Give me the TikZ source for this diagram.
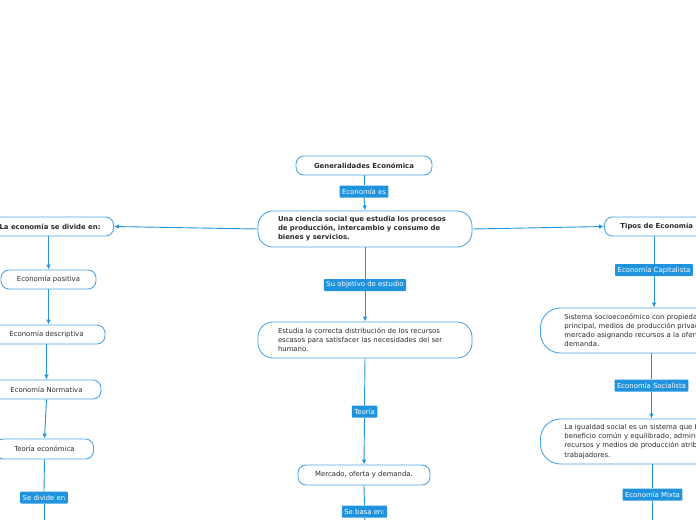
\documentclass[tikz,border=0pt]{standalone}
\usepackage{fontspec}
\setmainfont{DejaVu Sans}
\usetikzlibrary{arrows.meta}
\definecolor{lblue}{HTML}{1F93DE}
\definecolor{nborder}{HTML}{4BA6E6}
\definecolor{ntext}{HTML}{2B2B2B}
\newcommand{\nfont}{\fontsize{6.9}{9.1}\selectfont}
\tikzset{
  box/.style={draw=nborder, line width=0.9pt, fill=white, text=ntext, font=\nfont, inner ysep=2pt, inner xsep=8pt, rounded corners=8pt, minimum height=19pt},
  boldbox/.style={box, font=\nfont\bfseries},
  bigbox/.style={box, align=left, inner xsep=20pt},
  tag/.style={fill=lblue, text=white, font=\fontsize{6.9}{8}\selectfont, inner xsep=2.5pt, inner ysep=2pt, minimum height=12pt, rounded corners=0.8pt},
  link/.style={draw=lblue, line width=0.9pt},
  arr/.style={link, -{Latex[length=5pt,width=4.5pt]}}
}
\begin{document}
\begin{tikzpicture}[x=1pt,y=-1pt]
\useasboundingbox (0,0) rectangle (696,520);
\clip (0,0) rectangle (696,520);
% central column
\node[boldbox, minimum width=136pt] (gen) at (364,165.5) {Generalidades Económica};
\node[tag] (t1) at (364,191.5) {Economía es};
\node[bigbox, text width=174pt, minimum height=36pt, rounded corners=15pt, font=\nfont\bfseries] (cen) at (365,229) {Una ciencia social que estudia los procesos\\de producción, intercambio y consumo de\\bienes y servicios.};
\node[tag] (t2) at (365,285) {Su objetivo de estudio};
\node[bigbox, text width=174pt, minimum height=36pt, rounded corners=15pt] (est) at (365,340) {Estudia la correcta distribución de los recursos\\escasos para satisfacer las necesidades del ser\\humano.};
\node[tag] (t3) at (364.5,411.5) {Teoría};
\node[box, minimum width=132pt, minimum height=20pt] (mer) at (364,475) {Mercado, oferta y demanda.};
\node[tag] (t4) at (364.5,511.5) {Se basa en:};
\coordinate (cb) at (365,520);
% left column
\node[boldbox, anchor=east, inner xsep=13pt] (div) at (114,226.5) {La economía se divide en:};
\node[box, minimum width=95pt] (pos) at (48.5,279.5) {Economía positiva};
\node[box, minimum width=117pt] (des) at (46.5,334.5) {Economía descriptiva};
\node[box, minimum width=109pt] (nor) at (46.5,389.5) {Economía Normativa};
\node[box, minimum width=98pt, minimum height=20pt] (teo) at (44.5,449) {Teoría económica};
\node[tag] (t5) at (44,497.5) {Se divide en};
\coordinate (lb) at (44,520);
% right column
\node[boldbox, anchor=west, inner xsep=16pt] (tip) at (604,226.5) {Tipos de Economía};
\node[tag] (t6) at (654,270) {Economía Capitalista};
\node[bigbox, anchor=west, text width=250pt, inner xsep=24pt, minimum height=45pt, rounded corners=20pt] (sis) at (540,330.5) {Sistema socioeconómico con propiedad privada como\\principal, medios de producción privados y el\\mercado asignando recursos a la oferta y la\\demanda.};
\node[tag] (t7) at (651.5,385.5) {Economía Socialista};
\node[bigbox, anchor=west, text width=250pt, inner xsep=24pt, minimum height=45pt, rounded corners=20pt] (igu) at (540,441.5) {La igualdad social es un sistema que busca el\\beneficio común y equilibrado, administrando los\\recursos y medios de producción atribuidos a los\\trabajadores.};
\node[tag] (t8) at (652.5,494.5) {Economía Mixta};
\coordinate (rb) at (652.5,520);
% connectors
\draw[link] (gen.south) -- (t1.north);
\draw[arr] (t1.south) -- (cen.north);
\draw[link] (cen.south) -- (t2.north);
\draw[arr] (t2.south) -- (est.north);
\draw[link] (est.south) -- (t3.north);
\draw[arr] (t3.south) -- (mer.north);
\draw[link] (mer.south) -- (t4.north);
\draw[link] (t4.south) -- (cb);
\draw[arr] (cen.west) -- (div.east);
\draw[arr] (cen.east) -- (tip.west);
\draw[arr] (div.south -| pos.north) -- (pos.north);
\draw[arr] (pos.south) -- (des.north -| pos.south);
\draw[arr] (des.south) -- (nor.north);
\draw[arr] (nor.south) -- (teo.north);
\draw[link] (teo.south) -- (t5.north);
\draw[link] (t5.south) -- (lb);
\draw[link] (tip.south -| t6.north) -- (t6.north);
\draw[arr] (t6.south) -- (sis.north -| t6.south);
\draw[link] (sis.south -| t7.north) -- (t7.north);
\draw[arr] (t7.south) -- (igu.north -| t7.south);
\draw[link] (igu.south -| t8.north) -- (t8.north);
\draw[link] (t8.south) -- (rb);
\end{tikzpicture}
\end{document}
